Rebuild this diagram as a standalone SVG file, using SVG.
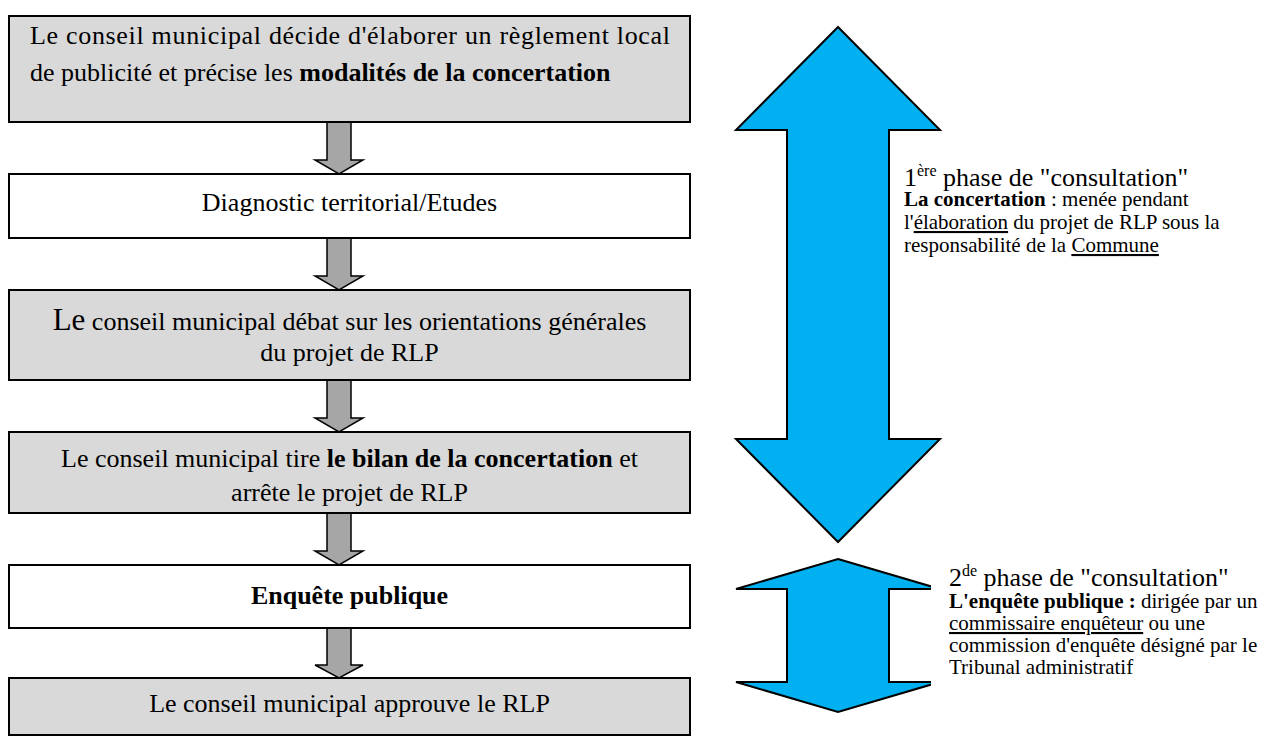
<svg xmlns="http://www.w3.org/2000/svg" width="1268" height="738" viewBox="0 0 1268 738">
<style>
.serif{font-family:"Liberation Serif","Times New Roman",serif;fill:#000}
.box{stroke:#000;stroke-width:2}
.gbox{fill:#d9d9d9}
.wbox{fill:#fff}
.big{font-size:26px}
.mid{text-anchor:middle}
.bold{font-weight:bold}
.und{text-decoration:underline}
.small{font-size:21px}
.flow{fill:#a6a6a6;stroke:#000;stroke-width:1.5}
.blue{fill:#00b0f0;stroke:#000;stroke-width:2}
</style>
<defs>
<clipPath id="clip2"><rect x="700" y="540" width="231" height="190"/></clipPath>
</defs>
<rect width="1268" height="738" fill="#fff"/>
<g id="connectors">
<path class="flow" d="M327 122 H351 V160 H363 L339 174 L315 160 H327 Z"/>
<path class="flow" d="M327 238 H351 V276 H363 L339 290 L315 276 H327 Z"/>
<path class="flow" d="M327 380 H351 V418 H363 L339 432 L315 418 H327 Z"/>
<path class="flow" d="M327 513 H351 V551 H363 L339 565 L315 551 H327 Z"/>
<path class="flow" d="M327 628 H351 V665 H363 L339 678 L315 665 H327 Z"/>
</g>
<g id="n1">
<rect class="box gbox" x="9" y="16" width="681" height="106"/>
<text class="serif big" font-family="Liberation Serif, serif" x="30" y="44" textLength="640" lengthAdjust="spacing">Le conseil municipal décide d'élaborer un règlement local</text>
<text class="serif big" font-family="Liberation Serif, serif" x="30" y="81">de publicité et précise les <tspan class="bold">modalités de la concertation</tspan></text>
</g>
<g id="n2">
<rect class="box wbox" x="9" y="174" width="681" height="64"/>
<text class="serif big mid" font-family="Liberation Serif, serif" x="349.5" y="211">Diagnostic territorial/Etudes</text>
</g>
<g id="n3">
<rect class="box gbox" x="9" y="290" width="681" height="90"/>
<text class="serif big mid" font-family="Liberation Serif, serif" x="349.5" y="330"><tspan font-size="31">Le</tspan> conseil municipal débat sur les orientations générales</text>
<text class="serif big mid" font-family="Liberation Serif, serif" x="349.5" y="361">du projet de RLP</text>
</g>
<g id="n4">
<rect class="box gbox" x="9" y="432" width="681" height="81"/>
<text class="serif big mid" font-family="Liberation Serif, serif" x="349.5" y="467">Le conseil municipal tire <tspan class="bold">le bilan de la concertation</tspan> et</text>
<text class="serif big mid" font-family="Liberation Serif, serif" x="349.5" y="501">arrête le projet de RLP</text>
</g>
<g id="n5">
<rect class="box wbox" x="9" y="565" width="681" height="63"/>
<text class="serif big mid bold" font-family="Liberation Serif, serif" x="349.5" y="604">Enquête publique</text>
</g>
<g id="n6">
<rect class="box gbox" x="9" y="678" width="681" height="57"/>
<text class="serif big mid" font-family="Liberation Serif, serif" x="349.5" y="712">Le conseil municipal approuve le RLP</text>
</g>
<g id="phase1">
<polygon class="blue" points="838,27 940,130 889,130 889,439 940,439 838,542 736,439 787,439 787,130 736,130"/>
<text class="serif big" font-family="Liberation Serif, serif" x="904" y="186">1<tspan font-size="16" baseline-shift="10">ère</tspan> phase de "consultation"</text>
<text class="serif small" font-family="Liberation Serif, serif" x="904" y="206"><tspan class="bold">La concertation</tspan> : menée pendant</text>
<text class="serif small" font-family="Liberation Serif, serif" x="904" y="229">l'<tspan class="und">élaboration</tspan> du projet de RLP sous la</text>
<text class="serif small" font-family="Liberation Serif, serif" x="904" y="252">responsabilité de la <tspan class="und">Commune</tspan></text>
</g>
<g id="phase2">
<polygon class="blue" clip-path="url(#clip2)" points="838,559 940,589 889,589 889,682 940,682 838,712 736,682 787,682 787,589 736,589"/>
<text class="serif big" font-family="Liberation Serif, serif" x="949" y="586">2<tspan font-size="16" baseline-shift="10">de</tspan> phase de "consultation"</text>
<text class="serif small" font-family="Liberation Serif, serif" x="949" y="608"><tspan class="bold">L'enquête publique :</tspan> dirigée par un</text>
<text class="serif small" font-family="Liberation Serif, serif" x="949" y="630"><tspan class="und">commissaire enquêteur</tspan> ou une</text>
<text class="serif small" font-family="Liberation Serif, serif" x="949" y="652">commission d'enquête désigné par le</text>
<text class="serif small" font-family="Liberation Serif, serif" x="949" y="674">Tribunal administratif</text>
</g>
</svg>
